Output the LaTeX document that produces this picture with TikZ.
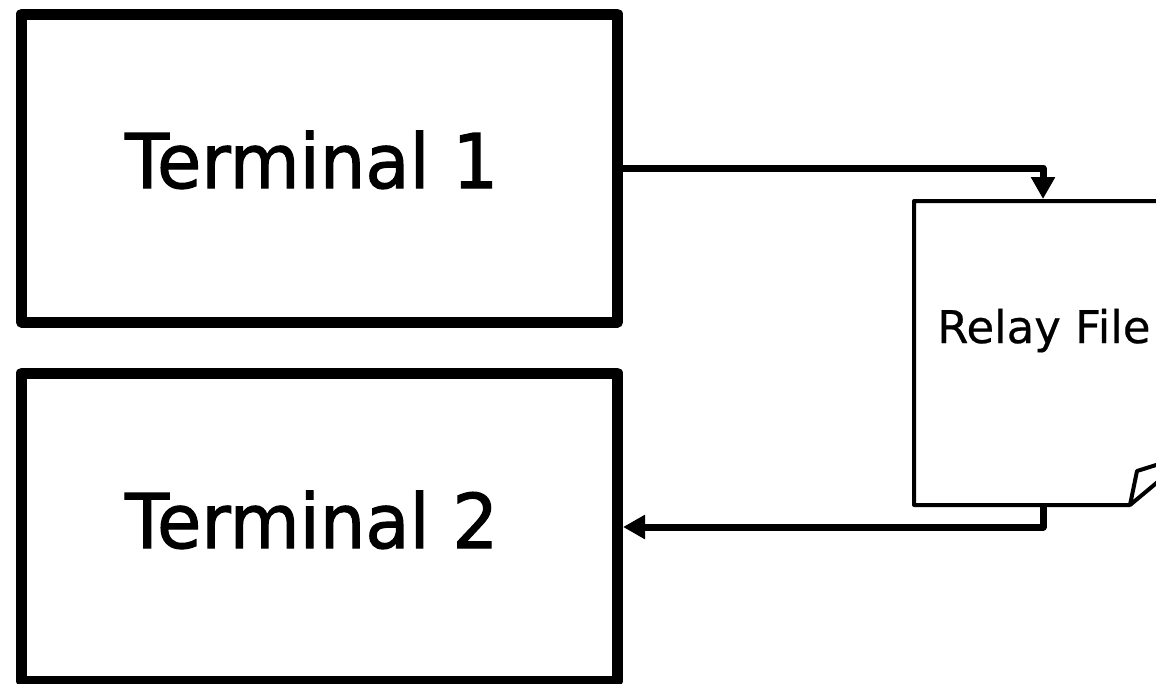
\documentclass[tikz,border=0pt]{standalone}
\usepackage{fontspec}
\usepackage{graphicx}
\setmainfont{DejaVu Sans}
\newfontface\heavyface{DejaVu Sans}[FakeBold=1.5]
\newfontface\midface{DejaVu Sans}[FakeBold=0.5]
\usetikzlibrary{arrows.meta,calc}
\tikzset{
  termbox/.style={draw, line width=11pt, line join=round, minimum width=596pt, minimum height=308pt, inner sep=0pt, outer sep=5.5pt},
  relaybox/.style={minimum width=258pt, minimum height=304pt, inner sep=0pt, outer sep=2pt},
  termtext/.style={anchor=base west, inner sep=0pt, font=\heavyface\fontsize{75.4}{90}\selectfont},
  relaytext/.style={anchor=base west, inner sep=0pt, font=\midface\fontsize{45}{54}\selectfont},
  conn/.style={line width=7pt, line join=round, -{Triangle[width=23pt,length=22pt]}},
  relayline/.style={line width=4pt, line join=round}
}
\begin{document}
\begin{tikzpicture}[x=1pt,y=-1pt]
\useasboundingbox (0,0) rectangle (1156,683);
\clip (0,0) rectangle (1156,683);
\node[termbox] (t1) at (319.5,168) {};
\node[termbox] (t2) at (319.5,527) {};
\node[relaybox] (relay) at (1043,353) {};
\coordinate (rsw) at ($(relay.south west)+(2,-2)$);
\coordinate (rne) at ($(relay.north east)+(-2,2)$);
\coordinate (rfold) at (1130,505);
\coordinate (rcurl) at (1172,460);
\draw[relayline] (rfold) -- (rsw) |- (rne) -- (rcurl) -- (1137,471) -- (rfold) -- (1172,470);
\node[termtext] (l1) at (125,188) {\scalebox{0.955}[1]{Terminal 1}};
\node[termtext] (l2) at (125,548) {\scalebox{0.955}[1]{Terminal 2}};
\node[relaytext] (l3) at (937,343) {Relay File};
\draw[conn] (t1.east) -| (relay.north);
\draw[conn] (relay.south) |- (t2.east);
\end{tikzpicture}
\end{document}
